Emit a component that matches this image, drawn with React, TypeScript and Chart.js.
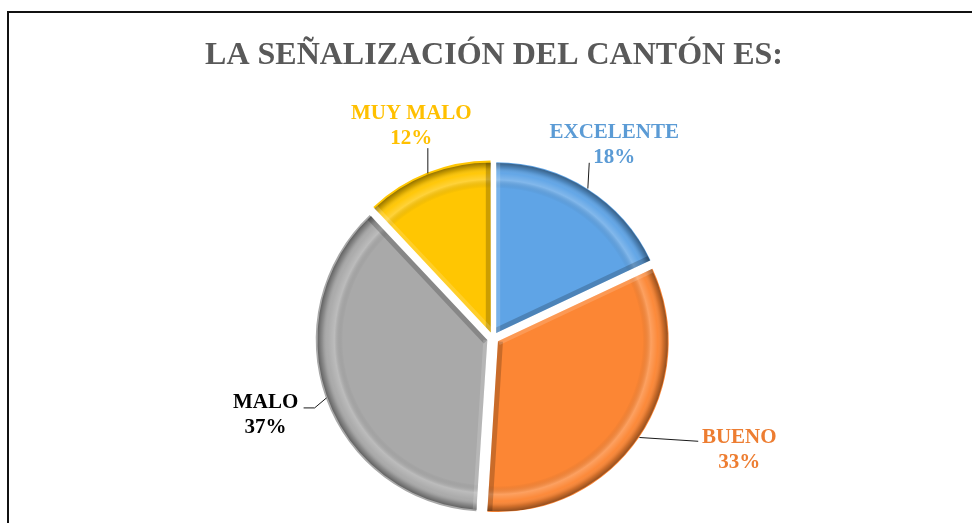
import React, { useEffect, useRef } from "react";
import { Chart, registerables } from "chart.js";

Chart.register(...registerables);

const TITLE = "LA SEÑALIZACIÓN DEL CANTÓN ES:";
const categories = ["EXCELENTE", "BUENO", "MALO", "MUY MALO"];
const percentages = [18, 33, 37, 12];
const sliceColors = ["#5FA4E6", "#FC8634", "#A9A9A9", "#FFC602"];
const labelColors = ["#5B9BD5", "#ED7D31", "#000000", "#FFC000"];

// label placement tweaks (annotation layout, not data)
const labelLayout = [
  { dist: 230, dx: -2, dy: 1, end: [-25, 18], elbow: null as null | number[], vertical: false },
  { dist: 230, dx: 56, dy: -17, end: [-41, -9], elbow: null as null | number[], vertical: false },
  { dist: 230, dx: -11, dy: -1, end: [49, -7], elbow: [38, -7], vertical: false },
  { dist: 230, dx: 3, dy: 2, end: [20, 22], elbow: null as null | number[], vertical: true },
];

const SLICE_OFFSET = 24; // chart.js translates by offset/4

const decorPlugin = {
  id: "decor",
  beforeDraw(chart: any) {
    const ctx = chart.ctx;
    ctx.save();
    ctx.fillStyle = "#ffffff";
    ctx.fillRect(0, 0, chart.width, chart.height);
    ctx.strokeStyle = "#111111";
    ctx.lineWidth = 2;
    ctx.beginPath();
    ctx.moveTo(8, chart.height + 5);
    ctx.lineTo(8, 12);
    ctx.lineTo(chart.width + 5, 12);
    ctx.stroke();
    ctx.fillStyle = "#595959";
    ctx.font = "bold 32px 'Liberation Serif', 'Times New Roman', serif";
    ctx.textAlign = "center";
    ctx.textBaseline = "alphabetic";
    ctx.fillText(TITLE, 494, 64);
    ctx.restore();
  },
  afterDatasetsDraw(chart: any) {
    const ctx = chart.ctx;
    const meta = chart.getDatasetMeta(0);
    meta.data.forEach((arc: any, i: number) => {
      const { x, y, startAngle, endAngle, outerRadius } = arc.getProps(
        ["x", "y", "startAngle", "endAngle", "outerRadius"], true
      );
      const mid = (startAngle + endAngle) / 2;
      const off = SLICE_OFFSET / 4;
      const cx = x + Math.cos(mid) * off;
      const cy = y + Math.sin(mid) * off;
      const r = outerRadius;
      ctx.save();
      ctx.beginPath();
      ctx.moveTo(cx, cy);
      ctx.arc(cx, cy, r, startAngle, endAngle);
      ctx.closePath();
      ctx.clip();
      // outer rim bevel
      const g = ctx.createRadialGradient(cx, cy, 0, cx, cy, r);
      g.addColorStop(0, "rgba(0,0,0,0)");
      g.addColorStop(0.85, "rgba(0,0,0,0)");
      g.addColorStop(0.9, "rgba(255,255,255,0.22)");
      g.addColorStop(0.94, "rgba(255,255,255,0.03)");
      g.addColorStop(0.97, "rgba(0,0,0,0.15)");
      g.addColorStop(1, "rgba(0,0,0,0.42)");
      ctx.fillStyle = g;
      ctx.fillRect(cx - r, cy - r, 2 * r, 2 * r);
      // edge shading along the straight sides
      ctx.lineWidth = 10;
      ctx.strokeStyle = "rgba(0,0,0,0.2)";
      ctx.beginPath();
      ctx.moveTo(cx, cy);
      ctx.lineTo(cx + Math.cos(endAngle) * r, cy + Math.sin(endAngle) * r);
      ctx.stroke();
      ctx.lineWidth = 8;
      ctx.strokeStyle = "rgba(255,255,255,0.16)";
      ctx.beginPath();
      ctx.moveTo(cx, cy);
      ctx.lineTo(cx + Math.cos(startAngle) * r, cy + Math.sin(startAngle) * r);
      ctx.stroke();
      ctx.restore();

      // labels
      const L = labelLayout[i];
      const lx = x + Math.cos(mid) * L.dist + L.dx;
      const ly = y + Math.sin(mid) * L.dist + L.dy;
      const ex = cx + Math.cos(mid) * (r + 1);
      const ey = cy + Math.sin(mid) * (r + 1);
      ctx.save();
      ctx.strokeStyle = "#1a1a1a";
      ctx.lineWidth = 1;
      ctx.beginPath();
      ctx.moveTo(ex, ey);
      if (L.vertical) {
        ctx.lineTo(ex, ly + L.end[1]);
      } else {
        ctx.lineTo(lx + L.end[0], ly + L.end[1]);
        if (L.elbow) ctx.lineTo(lx + L.elbow[0], ly + L.elbow[1]);
      }
      ctx.stroke();
      ctx.fillStyle = labelColors[i];
      ctx.font = "bold 21px 'Liberation Serif', 'Times New Roman', serif";
      ctx.textAlign = "center";
      ctx.textBaseline = "middle";
      ctx.fillText(categories[i], lx, ly - 12.5);
      ctx.fillText(percentages[i] + "%", lx, ly + 12.5);
      ctx.restore();
    });
  },
};

export default function App() {
  const ref = useRef<HTMLCanvasElement | null>(null);
  useEffect(() => {
    if (!ref.current) return;
    const chart = new Chart(ref.current, {
      type: "pie",
      data: {
        labels: categories,
        datasets: [
          {
            data: percentages,
            backgroundColor: sliceColors,
            borderWidth: 0,
            offset: SLICE_OFFSET,
            hoverOffset: 0,
            radius: 170,
          } as any,
        ],
      },
      options: {
        animation: false,
        responsive: false,
        radius: 170,
        layout: { padding: { top: 163, bottom: 10, left: 200, right: 186 } },
        plugins: {
          legend: { display: false },
          tooltip: { enabled: false },
          title: { display: false },
        },
        events: [],
      } as any,
      plugins: [decorPlugin],
    });
    return () => chart.destroy();
  }, []);
  return (
    <div style={{ position: "absolute", left: 0, top: 0, width: 972, height: 523 }}>
      <canvas ref={ref} width={972} height={523} style={{ width: 972, height: 523 }} />
    </div>
  );
}
